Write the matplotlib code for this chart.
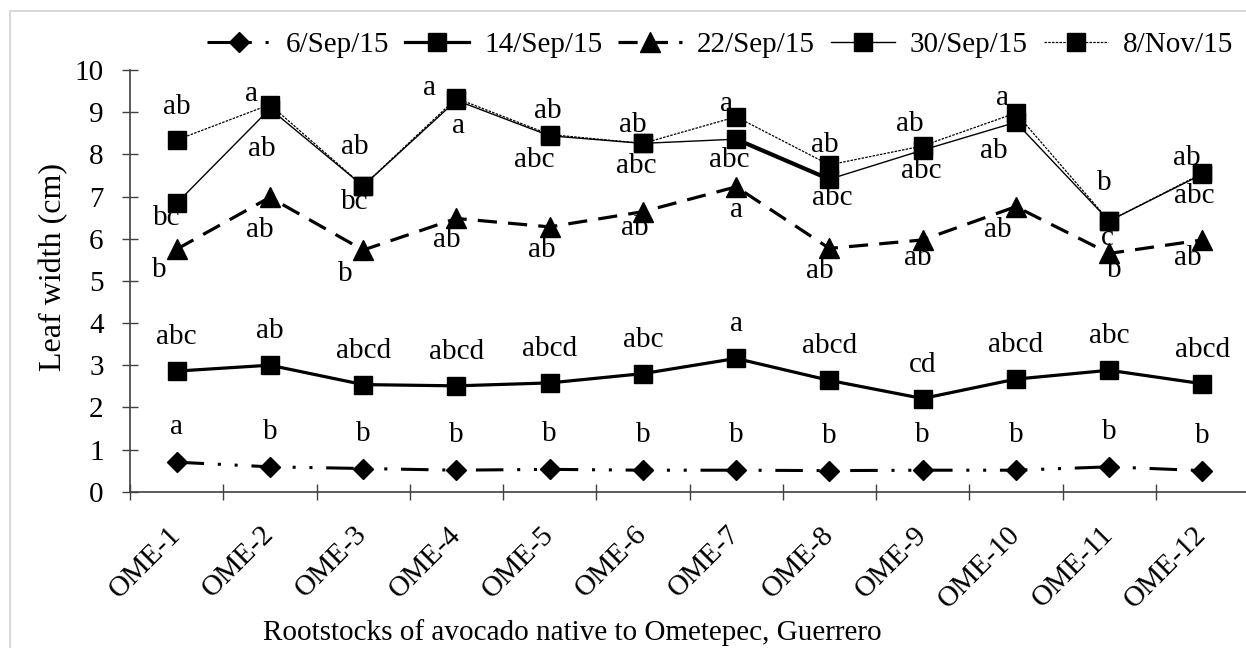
import matplotlib
matplotlib.use("Agg")
import matplotlib.pyplot as plt
from matplotlib.lines import Line2D

# --- data ---
rootstocks = ["OME-1", "OME-2", "OME-3", "OME-4", "OME-5", "OME-6",
              "OME-7", "OME-8", "OME-9", "OME-10", "OME-11", "OME-12"]
dates = ["6/Sep/15", "14/Sep/15", "22/Sep/15", "30/Sep/15", "8/Nov/15"]

sep06 = [0.70, 0.59, 0.55, 0.51, 0.53, 0.51, 0.51, 0.50, 0.51, 0.51, 0.59, 0.50]
sep14 = [2.86, 3.00, 2.54, 2.51, 2.58, 2.80, 3.16, 2.64, 2.21, 2.67, 2.88, 2.56]
sep22 = [5.75, 6.98, 5.73, 6.48, 6.28, 6.64, 7.23, 5.77, 5.97, 6.76, 5.65, 5.97]
sep30 = [6.84, 9.08, 7.25, 9.28, 8.44, 8.26, 8.36, 7.41, 8.10, 8.76, 6.42, 7.53]
nov08 = [8.34, 9.18, 7.25, 9.33, 8.47, 8.26, 8.89, 7.75, 8.20, 8.98, 6.42, 7.55]

sep06_letters = ["a", "b", "b", "b", "b", "b", "b", "b", "b", "b", "b", "b"]
sep14_letters = ["abc", "ab", "abcd", "abcd", "abcd", "abc", "a", "abcd", "cd", "abcd", "abc", "abcd"]
sep22_letters = ["b", "ab", "b", "ab", "ab", "ab", "a", "ab", "ab", "ab", "b", "ab"]
sep30_letters = ["bc", "ab", "bc", "a", "abc", "abc", "abc", "abc", "abc", "ab", "c", "abc"]
nov08_letters = ["ab", "a", "ab", "a", "ab", "ab", "a", "ab", "ab", "a", "b", "ab"]

# label offsets from the marker, in pixels (dx, dy up)
sep22_off = [(-17, -21), (-10, -33), (-18, -24), (-10, -22), (-8, -23), (-8, -16),
             (0, -23), (-10, -23), (-5, -18), (-18, -23), (5, -17), (-15, -18)]
sep30_off = [(-10, -15), (-8, -40), (-8, -16), (2, -26), (-15, -24), (-7, -23),
             (-7, -21), (3, -19), (-1, -21), (-22, -29), (-2, -17), (-8, -22)]
nov08_off = [(0, 33), (-18, 11), (-8, 39), (-27, 10), (-2, 24), (-10, 18),
             (-10, 13), (-5, 20), (-13, 22), (-13, 15), (-5, 38), (-16, 15)]

plt.rcParams["font.family"] = ["Liberation Serif", "DejaVu Serif"]
FS = 21

fig = plt.figure(figsize=(12.46, 6.48), dpi=100)
ax = fig.add_axes([130 / 1246, 1 - 491.7 / 648, 1119 / 1246, 421.7 / 648])

x = [i + 0.5 for i in range(len(rootstocks))]

l1, = ax.plot(x, sep06, color="black", lw=2.2, marker="D", ms=10,
              dashes=(9, 4.5, 1, 4.5, 1, 4.5), label=dates[0])
l2, = ax.plot(x, sep14, color="black", lw=2.3, marker="s", ms=13, label=dates[1])
l3, = ax.plot(x, sep22, color="black", lw=2.3, marker="^", ms=14,
              dashes=(6, 3.5), label=dates[2])
l4, = ax.plot(x, sep30, color="black", lw=1.0, marker="s", ms=13, label=dates[3])
# thicker stretch of the 30/Sep line between OME-7 and OME-8
ax.plot(x[6:8], sep30[6:8], color="black", lw=3, solid_capstyle="butt")
l5, = ax.plot(x, nov08, color="black", lw=0.9, marker="s", ms=13,
              dashes=(2, 1), label=dates[4])

kw = dict(textcoords="offset pixels", ha="center", va="center", fontsize=FS)
for i in range(len(x)):
    ax.annotate(sep06_letters[i], (x[i], sep06[i]), xytext=(0, 35), **kw)
    ax.annotate(sep14_letters[i], (x[i], sep14[i]), xytext=(0, 34), **kw)
    ax.annotate(sep22_letters[i], (x[i], sep22[i]), xytext=sep22_off[i], **kw)
    ax.annotate(sep30_letters[i], (x[i], sep30[i]), xytext=sep30_off[i], **kw)
    ax.annotate(nov08_letters[i], (x[i], nov08[i]), xytext=nov08_off[i], **kw)

ax.set_xlim(0, 12)
ax.set_ylim(0, 10)
ax.set_yticks(range(0, 11))
ax.set_xticks(range(0, 13))
ax.set_xticklabels([])
ax.set_xticks(x, minor=True)
ax.set_xticklabels(rootstocks, minor=True, rotation=45, ha="right", va="center",
                   rotation_mode="anchor")
ax.tick_params(axis="both", which="major", direction="inout", length=12, width=1,
               color="#404040", labelsize=FS)
ax.tick_params(axis="y", pad=13)
ax.tick_params(axis="x", which="minor", length=0, pad=28, labelsize=FS)

for s in ["top", "right"]:
    ax.spines[s].set_visible(False)
for s in ["left", "bottom"]:
    ax.spines[s].set_color("#404040")
    ax.spines[s].set_linewidth(1.2)

ax.set_ylabel("Leaf width (cm)", fontsize=23, va="center")
ax.yaxis.set_label_coords(-0.068, 0.534)
ax.set_xlabel("Rootstocks of avocado native to Ometepec, Guerrero", fontsize=FS,
              va="center")
ax.xaxis.set_label_coords(0.395, -0.335)

fig.legend(handles=[l1, l2, l3, l4, l5], loc="center", ncol=5, frameon=False,
           fontsize=FS, handlelength=2.2, handletextpad=0.5, columnspacing=0.55,
           bbox_to_anchor=(720 / 1246, 1 - 45 / 648))

# light grey frame of the original chart area
fig.add_artist(Line2D([10 / 1246, 1], [1 - 11 / 648, 1 - 11 / 648],
                      transform=fig.transFigure, color="#d9d9d9", lw=1.5))
fig.add_artist(Line2D([10 / 1246, 10 / 1246], [0, 1 - 11 / 648],
                      transform=fig.transFigure, color="#d9d9d9", lw=1.5))

fig.savefig("out.png", dpi=100)
